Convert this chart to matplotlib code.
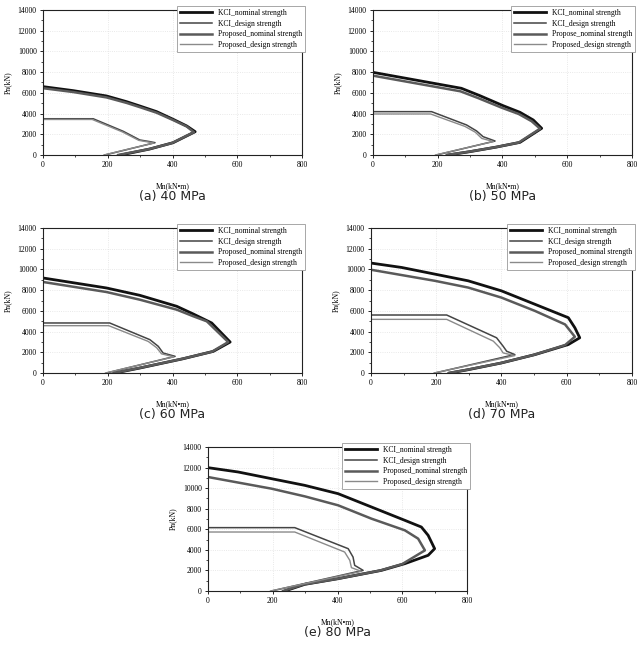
import numpy as np
import matplotlib
matplotlib.use("Agg")
import matplotlib.pyplot as plt
from matplotlib.ticker import MultipleLocator

# ---- data: Mn (kN*m), Pn (kN) ----
# (a) 40 MPa
a_kci_nom_m = [0, 93, 196, 258, 299, 351, 402, 444, 470, 402, 330, 240]
a_kci_nom_p = [6600, 6215, 5700, 5150, 4730, 4185, 3445, 2800, 2250, 1190, 580, 0]
a_pro_nom_m = [0, 93, 196, 258, 299, 351, 402, 444, 466, 398, 326, 232]
a_pro_nom_p = [6450, 6080, 5560, 5030, 4620, 4080, 3370, 2750, 2200, 1150, 560, 0]
a_kci_des_m = [0, 155, 248, 299, 330, 346, 191]
a_kci_des_p = [3500, 3500, 2285, 1450, 1290, 1190, 0]
a_pro_des_m = [0, 152, 245, 296, 326, 342, 188]
a_pro_des_p = [3430, 3430, 2230, 1410, 1250, 1150, 0]

# (b) 50 MPa
b_kci_nom_m = [0, 273, 330, 402, 454, 495, 521, 454, 382, 299, 232]
b_kci_nom_p = [7980, 6440, 5730, 4760, 4120, 3380, 2575, 1220, 770, 320, 0]
b_pro_nom_m = [0, 270, 326, 398, 450, 490, 516, 450, 378, 295, 228]
b_pro_nom_p = [7660, 6150, 5480, 4560, 3960, 3260, 2540, 1200, 750, 310, 0]
b_kci_des_m = [0, 181, 289, 320, 340, 377, 196]
b_kci_des_p = [4185, 4185, 2900, 2320, 1770, 1350, 0]
b_pro_des_m = [0, 178, 284, 316, 336, 372, 193]
b_pro_des_p = [3960, 3960, 2760, 2200, 1600, 1300, 0]

# (c) 60 MPa
c_kci_nom_m = [0, 196, 299, 413, 464, 521, 578, 526, 433, 299, 222]
c_kci_nom_p = [9175, 8210, 7500, 6440, 5700, 4830, 2990, 2090, 1380, 480, 0]
c_pro_nom_m = [0, 196, 299, 413, 464, 506, 572, 522, 429, 295, 218]
c_pro_nom_p = [8790, 7820, 7080, 6115, 5480, 4990, 2990, 2060, 1360, 470, 0]
c_kci_des_m = [0, 206, 330, 356, 371, 408, 196]
c_kci_des_p = [4830, 4830, 3220, 2575, 1930, 1610, 0]
c_pro_des_m = [0, 203, 325, 351, 366, 404, 193]
c_pro_des_p = [4570, 4570, 3050, 2440, 1850, 1560, 0]

# (d) 70 MPa
d_kci_nom_m = [0, 94, 196, 298, 400, 503, 605, 625, 640, 605, 503, 400, 298, 242]
d_kci_nom_p = [10615, 10190, 9545, 8900, 7930, 6630, 5340, 4370, 3400, 2750, 1780, 970, 320, 0]
d_pro_nom_m = [0, 196, 298, 400, 503, 595, 625, 595, 498, 396, 294, 238]
d_pro_nom_p = [9970, 8900, 8250, 7280, 5990, 4690, 3500, 2700, 1740, 950, 310, 0]
d_kci_des_m = [0, 232, 385, 405, 416, 441, 196]
d_kci_des_p = [5600, 5600, 3400, 2590, 2100, 1780, 0]
d_pro_des_m = [0, 232, 375, 395, 405, 441, 193]
d_pro_des_p = [5180, 5180, 3075, 2430, 1940, 1680, 0]

# (e) 80 MPa
e_kci_nom_m = [0, 93, 196, 299, 402, 505, 608, 659, 680, 700, 680, 608, 536, 402, 299, 237]
e_kci_nom_p = [11990, 11570, 10920, 10270, 9460, 8165, 6870, 6220, 5410, 4115, 3470, 2660, 2010, 1200, 650, 0]
e_pro_nom_m = [0, 196, 299, 402, 505, 608, 649, 670, 600, 530, 398, 295, 232]
e_pro_nom_p = [11080, 9950, 9200, 8330, 7030, 5900, 5090, 3950, 2620, 1980, 1180, 640, 0]
e_kci_des_m = [0, 268, 433, 448, 453, 479, 196]
e_kci_des_p = [6160, 6160, 4115, 3300, 2495, 2010, 0]
e_pro_des_m = [0, 268, 422, 438, 443, 474, 193]
e_pro_des_p = [5735, 5735, 3790, 2980, 2270, 1910, 0]

captions = ["(a) 40 MPa", "(b) 50 MPa", "(c) 60 MPa", "(d) 70 MPa", "(e) 80 MPa"]
labels = ["KCI_nominal strength", "KCI_design strength",
          "Proposed_nominal strength", "Proposed_design strength"]
labels_b = ["KCI_nominal strength", "KCI_design strength",
            "Propose_nominal strength", "Proposed_design strength"]

panels = [
    (a_kci_nom_m, a_kci_nom_p, a_kci_des_m, a_kci_des_p, a_pro_nom_m, a_pro_nom_p, a_pro_des_m, a_pro_des_p),
    (b_kci_nom_m, b_kci_nom_p, b_kci_des_m, b_kci_des_p, b_pro_nom_m, b_pro_nom_p, b_pro_des_m, b_pro_des_p),
    (c_kci_nom_m, c_kci_nom_p, c_kci_des_m, c_kci_des_p, c_pro_nom_m, c_pro_nom_p, c_pro_des_m, c_pro_des_p),
    (d_kci_nom_m, d_kci_nom_p, d_kci_des_m, d_kci_des_p, d_pro_nom_m, d_pro_nom_p, d_pro_des_m, d_pro_des_p),
    (e_kci_nom_m, e_kci_nom_p, e_kci_des_m, e_kci_des_p, e_pro_nom_m, e_pro_nom_p, e_pro_des_m, e_pro_des_p),
]

# axes rectangles in figure fractions
rects = [
    [0.0674, 0.7597, 0.406, 0.2248],
    [0.5846, 0.7597, 0.406, 0.2248],
    [0.0674, 0.4217, 0.406, 0.2248],
    [0.5815, 0.4217, 0.409, 0.2248],
    [0.326, 0.0837, 0.406, 0.2233],
]

styles = [("#111111", 2.0), ("#444444", 1.1), ("#5a5a5a", 1.8), ("#8a8a8a", 1.0)]
serif = "Liberation Serif"

fig = plt.figure(figsize=(6.38, 6.45), dpi=100)

for k, (rect, data) in enumerate(zip(rects, panels)):
    ax = fig.add_axes(rect)
    lab = labels_b if k == 1 else labels
    for i in range(4):
        m = data[2 * i]
        p = data[2 * i + 1]
        col, lw = styles[i]
        ax.plot(m, p, color=col, lw=lw, label=lab[i], solid_joinstyle="round")

    ax.set_xlim(0, 800)
    ax.set_ylim(0, 14000)
    ax.xaxis.set_major_locator(MultipleLocator(200))
    ax.xaxis.set_minor_locator(MultipleLocator(100))
    ax.yaxis.set_major_locator(MultipleLocator(2000))
    ax.yaxis.set_minor_locator(MultipleLocator(1000))
    ax.tick_params(which="major", length=2.5, width=0.6, direction="out", labelsize=5.5, pad=2)
    ax.tick_params(which="minor", length=1.5, width=0.5, direction="out")
    for t in ax.get_xticklabels() + ax.get_yticklabels():
        t.set_fontfamily(serif)
    ax.grid(True, which="major", color="#e2e2e2", linestyle=":", lw=0.6)
    for s in ax.spines.values():
        s.set_linewidth(0.8)
        s.set_color("#222222")

    ax.set_xlabel("Mn(kN\u2022m)", fontsize=5.5, fontfamily=serif, labelpad=9)
    ax.set_ylabel("Pn(kN)", fontsize=5.5, fontfamily=serif, labelpad=4)

    leg = ax.legend(loc="upper right", bbox_to_anchor=(1.012, 1.028), frameon=True,
                    fancybox=False, edgecolor="#999999", framealpha=1,
                    prop={"family": serif, "size": 5.5}, handlelength=4.2,
                    handletextpad=0.8, labelspacing=0.35, borderpad=0.4,
                    borderaxespad=0)
    leg.get_frame().set_linewidth(0.6)

    ax.text(0.5, -0.285, captions[k], transform=ax.transAxes, ha="center", va="center",
            fontsize=9, fontfamily="DejaVu Sans", color="#222222")

fig.savefig("out.png", dpi=100)
